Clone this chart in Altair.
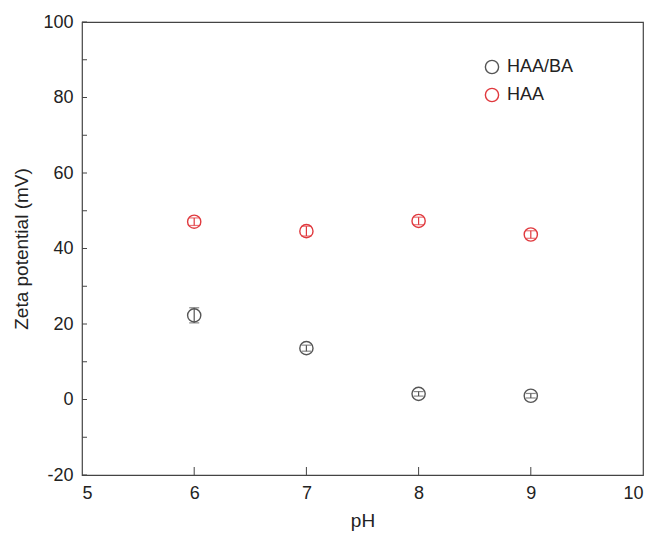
import altair as alt
import pandas as pd

ph = [6, 7, 8, 9]
haa_ba = [22.3, 13.6, 1.5, 1.0]
haa_ba_err = [2.0, 0.8, 0.6, 0.6]
haa = [47.1, 44.6, 47.3, 43.7]
haa_err = [1.0, 1.3, 1.0, 1.0]
series_names = ["HAA/BA", "HAA"]
colors = ["#555555", "#e0393e"]

x_ticks = [6, 7, 8, 9]
y_major = [-20, 0, 20, 40, 60, 80, 100]
y_minor = [-10, 10, 30, 50, 70, 90]

rows = []
for p, v, e in zip(ph, haa_ba, haa_ba_err):
    rows.append({"ph": p, "zeta": v, "err": e, "series": series_names[0]})
for p, v, e in zip(ph, haa, haa_err):
    rows.append({"ph": p, "zeta": v, "err": e, "series": series_names[1]})
df = pd.DataFrame(rows)

W, H = 561, 453
FONT = "Liberation Sans"

xscale = alt.Scale(domain=[5, 10], nice=False, zero=False)
yscale = alt.Scale(domain=[-20, 100], nice=False, zero=False)
cscale = alt.Scale(domain=series_names, range=colors)

xaxis = alt.Axis(values=[5, 6, 7, 8, 9, 10], tickSize=0, labelPadding=9, domain=False,
                 grid=False, title="pH", titlePadding=9, labelExpr="toString(datum.value)")
yaxis = alt.Axis(values=y_major, tickSize=0, labelPadding=9, domain=False,
                 grid=False, title="Zeta potential (mV)", titlePadding=11,
                 labelExpr="toString(datum.value)")

base = alt.Chart(df).transform_calculate(
    lo="datum.zeta - datum.err", hi="datum.zeta + datum.err", grp="datum.series"
)
col_nolegend = alt.Color("grp:N", scale=cscale, legend=None)

points = base.mark_point(shape="circle", filled=False, size=175, strokeWidth=1.4, opacity=1).encode(
    x=alt.X("ph:Q", scale=xscale, axis=xaxis),
    y=alt.Y("zeta:Q", scale=yscale, axis=yaxis),
    stroke=alt.Stroke("series:N", scale=cscale, sort=series_names,
                      legend=alt.Legend(title=None, orient="none", legendX=401, legendY=36,
                                        symbolSize=175, symbolStrokeWidth=1.4, labelFontSize=18,
                                        labelFont=FONT, labelColor="#222", rowPadding=8,
                                        labelOffset=6, symbolType="circle")),
)

vbar = base.mark_rule(strokeWidth=1.2).encode(
    x="ph:Q", y="lo:Q", y2="hi:Q", color=col_nolegend,
)
caps_lo = base.mark_tick(orient="horizontal", size=10, thickness=1.2).encode(
    x="ph:Q", y="lo:Q", color=col_nolegend
)
caps_hi = base.mark_tick(orient="horizontal", size=10, thickness=1.2).encode(
    x="ph:Q", y="hi:Q", color=col_nolegend
)

xt = alt.Chart(pd.DataFrame({"t": x_ticks})).mark_rule(color="#444", strokeWidth=1).encode(
    x=alt.X("t:Q", scale=xscale), y=alt.value(H), y2=alt.value(H - 8)
)
yt_major = alt.Chart(pd.DataFrame({"t": y_major})).mark_rule(color="#444", strokeWidth=1).encode(
    y=alt.Y("t:Q", scale=yscale), x=alt.value(0), x2=alt.value(5)
)
yt_minor = alt.Chart(pd.DataFrame({"t": y_minor})).mark_rule(color="#444", strokeWidth=1).encode(
    y=alt.Y("t:Q", scale=yscale), x=alt.value(0), x2=alt.value(5)
)

chart = alt.layer(xt, yt_major, yt_minor, vbar, caps_lo, caps_hi, points).resolve_scale(
    color="independent", stroke="independent"
).properties(
    width=W, height=H,
    autosize=alt.AutoSizeParams(type="none"),
    padding={"left": 82, "top": 22, "right": 17, "bottom": 62},
    background="white",
).configure_view(
    stroke="#444", strokeWidth=1.2
).configure_axis(
    labelFont=FONT, titleFont=FONT, labelFontSize=18, titleFontSize=19,
    labelColor="#222", titleColor="#222", titleFontWeight="normal"
)

chart.save("out.html", embed_options={"renderer": "svg", "actions": False})
